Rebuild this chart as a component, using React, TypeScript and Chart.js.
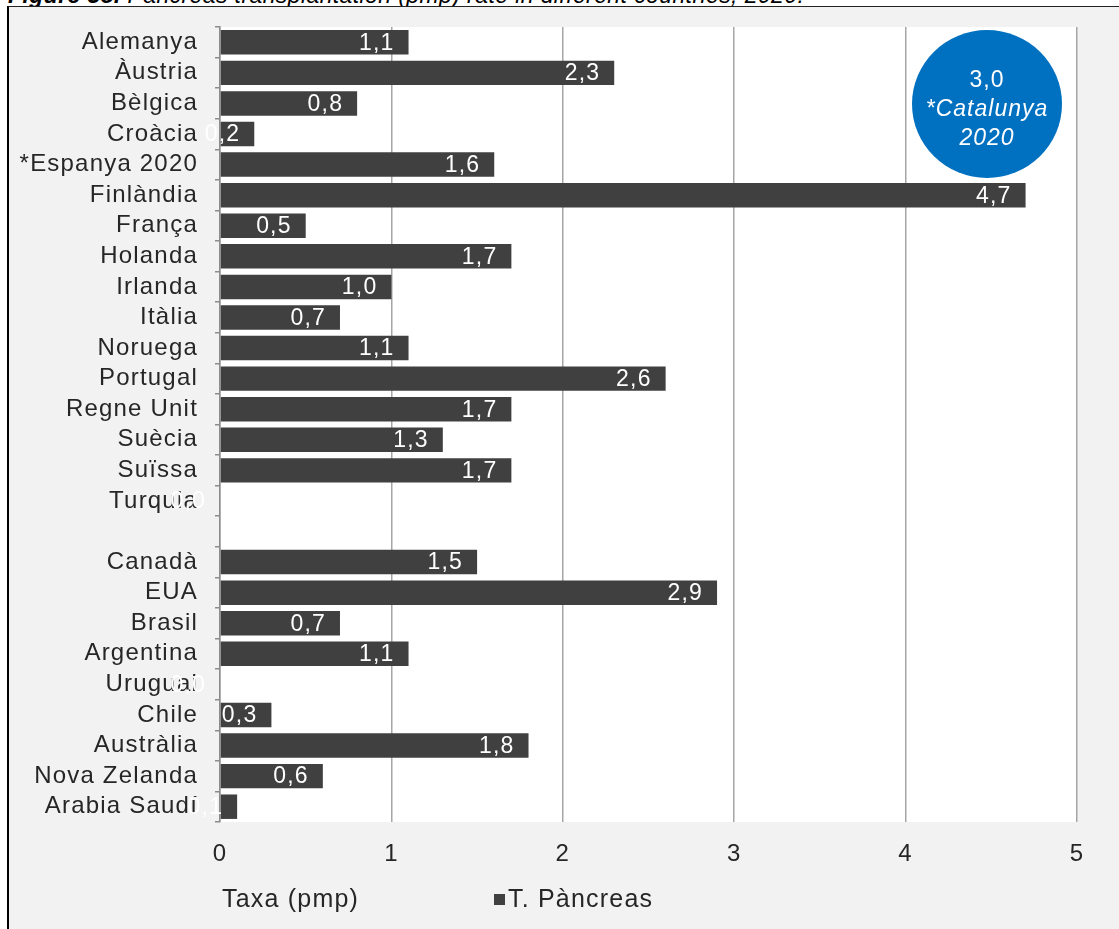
import React, { useEffect, useRef } from "react";
import { Chart, registerables } from "chart.js";

Chart.register(...registerables);

const categories: string[] = [
  "Alemanya", "Àustria", "Bèlgica", "Croàcia", "*Espanya 2020", "Finlàndia", "França",
  "Holanda", "Irlanda", "Itàlia", "Noruega", "Portugal", "Regne Unit", "Suècia", "Suïssa",
  "Turquia", "", "Canadà", "EUA", "Brasil", "Argentina", "Uruguai", "Chile", "Austràlia",
  "Nova Zelanda", "Arabia Saudí",
];

const pancreasRates: (number | null)[] = [
  1.1, 2.3, 0.8, 0.2, 1.6, 4.7, 0.5,
  1.7, 1.0, 0.7, 1.1, 2.6, 1.7, 1.3, 1.7,
  0.0, null, 1.5, 2.9, 0.7, 1.1, 0.0, 0.3, 1.8,
  0.6, 0.1,
];

const xTicks: number[] = [0, 1, 2, 3, 4, 5];
const seriesName = "T. Pàncreas";
const axisTitle = "Taxa (pmp)";
const catalunyaRate = 3.0;
const catalunyaLabel = ["*Catalunya", "2020"];
const figureTitleBold = "Figure 38.";
const figureTitleRest = " Pancreas transplantation (pmp) rate in different countries, 2020.";

const FONT = "Arial, 'Liberation Sans', sans-serif";
const BAR_COLOR = "#404040";
const TEXT_COLOR = "#262626";
const fmt = (v: number) => v.toFixed(1).replace(".", ",");

export default function App() {
  const ref = useRef<HTMLCanvasElement | null>(null);

  useEffect(() => {
    document.body.style.margin = "0";
    const canvas = ref.current;
    if (!canvas) return;

    const bgPlugin = {
      id: "plotBg",
      beforeDraw(chart: any) {
        const { ctx, chartArea } = chart;
        (ctx as any).letterSpacing = "1.2px";
        ctx.save();
        ctx.fillStyle = "#ffffff";
        ctx.fillRect(chartArea.left, chartArea.top, chartArea.right - chartArea.left, chartArea.bottom - chartArea.top);
        ctx.restore();
      },
    };

    const labelPlugin = {
      id: "barLabels",
      afterDatasetsDraw(chart: any) {
        const { ctx } = chart;
        const meta = chart.getDatasetMeta(0);
        ctx.save();
        (ctx as any).letterSpacing = "1.2px";
        ctx.font = `23px ${FONT}`;
        ctx.fillStyle = "#ffffff";
        ctx.textAlign = "right";
        ctx.textBaseline = "middle";
        meta.data.forEach((bar: any, i: number) => {
          const v = pancreasRates[i];
          if (v === null || v === undefined) return;
          ctx.fillText(fmt(v), bar.x - 14, bar.y + 1);
        });
        ctx.restore();
      },
    };

    const legendPlugin = {
      id: "bottomLegend",
      afterDraw(chart: any) {
        const { ctx, chartArea } = chart;
        const xs = chart.scales.x;
        const y = chartArea.bottom + 78;
        ctx.save();
        (ctx as any).letterSpacing = "1.2px";
        ctx.font = `25px ${FONT}`;
        ctx.fillStyle = TEXT_COLOR;
        ctx.textAlign = "left";
        ctx.textBaseline = "middle";
        ctx.fillText(axisTitle, xs.left + 2, y);
        const bx = 485;
        ctx.fillStyle = BAR_COLOR;
        ctx.fillRect(bx, y - 6, 11, 11);
        ctx.fillStyle = TEXT_COLOR;
        ctx.fillText(seriesName, bx + 14, y);
        ctx.restore();
      },
    };

    const chart = new Chart(canvas, {
      type: "bar",
      data: {
        labels: categories,
        datasets: [
          {
            label: seriesName,
            data: pancreasRates as any,
            backgroundColor: BAR_COLOR,
            borderWidth: 0,
            categoryPercentage: 1,
            barPercentage: 0.8,
          },
        ],
      },
      options: {
        indexAxis: "y",
        animation: false,
        responsive: false,
        maintainAspectRatio: false,
        layout: { padding: { top: 17, right: 42, bottom: 49, left: 0 } },
        plugins: {
          tooltip: { enabled: false },
          legend: { display: false },
        },
        scales: {
          x: {
            min: 0,
            max: 5,
            afterBuildTicks: (s: any) => {
              s.ticks = xTicks.map((v) => ({ value: v }));
            },
            afterFit: (s: any) => {
              s.height = 58;
              s.paddingLeft = 0;
              s.paddingRight = 0;
            },
            ticks: {
              font: { size: 24, family: FONT },
              color: TEXT_COLOR,
              padding: 18,
              callback: (v: any) => String(v),
            },
            grid: {
              color: "#a6a6a6",
              lineWidth: 1.5,
              drawTicks: false,
            },
            border: { display: false },
          },
          y: {
            afterFit: (s: any) => {
              s.width = 211;
              s.paddingTop = 0;
              s.paddingBottom = 0;
            },
            ticks: {
              font: { size: 24, family: FONT },
              color: TEXT_COLOR,
              padding: 17,
              autoSkip: false,
            },
            grid: {
              display: true,
              drawOnChartArea: false,
              drawTicks: true,
              tickLength: 5,
              color: "#8c8c8c",
              lineWidth: 1.5,
              offset: true,
            },
            border: { display: true, color: "#8c8c8c", width: 1.5 },
          },
        },
      },
      plugins: [bgPlugin, labelPlugin, legendPlugin],
    });

    return () => chart.destroy();
  }, []);

  return (
    <div style={{ position: "relative", width: 1119, height: 929, overflow: "hidden", fontFamily: FONT }}>
      <div
        style={{
          position: "absolute",
          left: 8,
          top: -15,
          fontSize: 23,
          lineHeight: "20px",
          letterSpacing: "0.4px",
          fontStyle: "italic",
          whiteSpace: "nowrap",
          color: "#000",
        }}
      >
        <b>{figureTitleBold}</b>
        {figureTitleRest}
      </div>
      <div
        style={{
          position: "absolute",
          left: 7,
          top: 6,
          width: 1200,
          height: 1000,
          background: "#f2f2f2",
          borderLeft: "2px solid #000",
          borderTop: "1px solid #222",
        }}
      />
      <canvas
        ref={ref}
        width={1110}
        height={919}
        style={{ position: "absolute", left: 9, top: 10, width: 1110, height: 919 }}
      />
      <div
        style={{
          position: "absolute",
          left: 912,
          top: 30,
          width: 150,
          height: 148,
          borderRadius: "50%",
          background: "#0070c0",
          color: "#fff",
          fontSize: 23,
          letterSpacing: "1px",
          lineHeight: "29px",
          textAlign: "center",
          display: "flex",
          flexDirection: "column",
          justifyContent: "center",
          paddingTop: 8,
          boxSizing: "border-box",
        }}
      >
        <div>{fmt(catalunyaRate)}</div>
        <div style={{ fontStyle: "italic" }}>{catalunyaLabel[0]}</div>
        <div style={{ fontStyle: "italic" }}>{catalunyaLabel[1]}</div>
      </div>
    </div>
  );
}
